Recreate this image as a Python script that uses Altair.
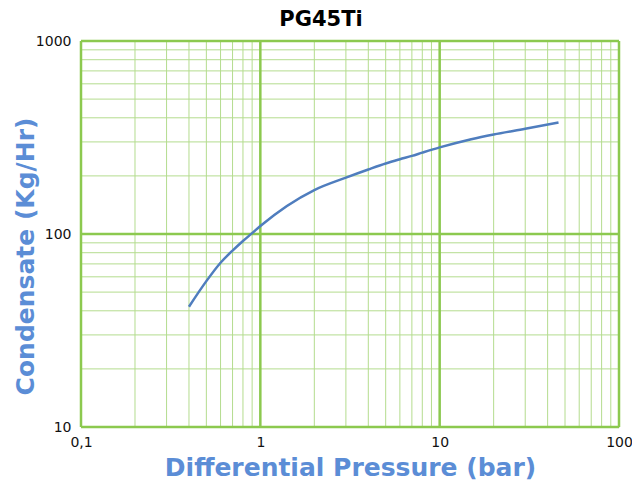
import altair as alt
import pandas as pd

# Data
pressure = [0.4, 0.5, 0.6, 0.7, 0.8, 0.9, 1, 2, 3, 4, 5, 6, 7, 8, 10, 15, 20, 30, 46]
condensate = [42, 57, 71, 82, 92, 101, 110, 169, 196, 216, 232, 244, 254, 264, 281, 310, 328, 351, 378]

x_major = [0.1, 1, 10, 100]
x_minor = [0.2, 0.3, 0.4, 0.5, 0.6, 0.7, 0.8, 0.9,
           2, 3, 4, 5, 6, 7, 8, 9,
           20, 30, 40, 50, 60, 70, 80, 90]
y_major = [10, 100, 1000]
y_minor = [20, 30, 40, 50, 60, 70, 80, 90,
           200, 300, 400, 500, 600, 700, 800, 900]

curve = pd.DataFrame({"p": pressure, "c": condensate})
xmaj = pd.DataFrame({"p": x_major})
xmin = pd.DataFrame({"p": x_minor})
ymaj = pd.DataFrame({"c": y_major})
ymin = pd.DataFrame({"c": y_minor})

xs = alt.Scale(type="log", domain=[0.1, 100], nice=False)
ys = alt.Scale(type="log", domain=[10, 1000], nice=False)

FONT = "DejaVu Sans"
BLUE = "#5B8DD6"
MAJ = "#8CC94F"
MIN = "#B4DC8E"

xaxis = alt.Axis(values=x_major, grid=False, ticks=False, domain=False,
                 labelExpr="replace(format(datum.value, '~g'), '.', ',')",
                 labelFont=FONT, labelFontSize=14, labelColor="#111", labelPadding=8,
                 labelFlush=False,
                 title="Differential Pressure (bar)", titleFont=FONT, titleFontSize=25,
                 titleFontWeight="bold", titleColor=BLUE,
                 titleX=269, titleY=40, titleBaseline="middle", titleAlign="center")
yaxis = alt.Axis(values=y_major, grid=False, ticks=False, domain=False, format="d",
                 labelFont=FONT, labelFontSize=14, labelColor="#111", labelPadding=10,
                 labelFlush=False,
                 title="Condensate (Kg/Hr)", titleFont=FONT, titleFontSize=25,
                 titleFontWeight="bold", titleColor=BLUE,
                 titleX=-56, titleY=215, titleBaseline="middle", titleAlign="center",
                 titleAngle=-90)

vmin = alt.Chart(xmin).mark_rule(color=MIN, strokeWidth=1).encode(
    x=alt.X("p:Q", scale=xs, axis=xaxis))
hmin = alt.Chart(ymin).mark_rule(color=MIN, strokeWidth=1).encode(
    y=alt.Y("c:Q", scale=ys, axis=yaxis))
vmaj = alt.Chart(xmaj).mark_rule(color=MAJ, strokeWidth=2.5).encode(
    x=alt.X("p:Q", scale=xs, axis=xaxis))
hmaj = alt.Chart(ymaj).mark_rule(color=MAJ, strokeWidth=2.5).encode(
    y=alt.Y("c:Q", scale=ys, axis=yaxis))
line = alt.Chart(curve).mark_line(color="#4F7DBE", strokeWidth=2.5, interpolate="monotone").encode(
    x=alt.X("p:Q", scale=xs, axis=xaxis),
    y=alt.Y("c:Q", scale=ys, axis=yaxis),
)

chart = alt.layer(vmin, hmin, vmaj, hmaj, line).properties(
    width=538, height=386,
    title=alt.Title("PG45Ti", font=FONT, fontSize=21, fontWeight="bold", color="#000",
                    anchor="middle", frame="group", dx=-29, offset=4),
    autosize=alt.AutoSizeParams(type="none"),
    padding={"left": 73, "top": 33, "right": 13, "bottom": 53},
).configure_view(stroke=None).configure(background="white")

chart.save("out.html", embed_options={"renderer": "svg", "actions": False})
